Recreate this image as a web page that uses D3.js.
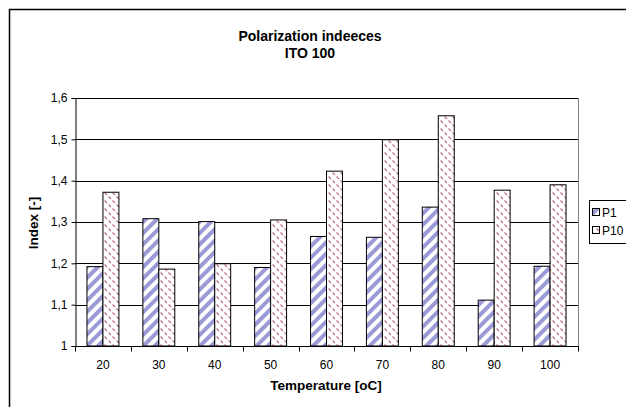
<!DOCTYPE html>
<head>
  <meta charset="utf-8">
  <script src="https://cdnjs.cloudflare.com/ajax/libs/d3/7.8.5/d3.min.js"></script>
  <style>
    body { margin:0; background:#fff; }
    svg { display:block; font-family: "Liberation Sans", Arial, sans-serif; }
  </style>
</head>
<body>
  <script>
    var temps = ["20", "30", "40", "50", "60", "70", "80", "90", "100"];
    var p1 = [1.192, 1.308, 1.301, 1.190, 1.265, 1.263, 1.336, 1.111, 1.193];
    var p10 = [1.372, 1.186, 1.199, 1.305, 1.423, 1.499, 1.557, 1.377, 1.390];
    var seriesNames = ["P1", "P10"];
    var yTicks = [1, 1.1, 1.2, 1.3, 1.4, 1.5, 1.6];

    var W = 626, H = 407;
    var plot = {left: 75, right: 578, top: 98, bottom: 346};

    var svg = d3.select("body").append("svg")
      .attr("width", W).attr("height", H);

    // patterns
    var defs = svg.append("defs");
    var pa = defs.append("pattern").attr("id", "pP1")
      .attr("patternUnits", "userSpaceOnUse")
      .attr("width", 8).attr("height", 8)
      .attr("patternTransform", "rotate(45)");
    pa.append("rect").attr("width", 8).attr("height", 8).attr("fill", "#fff");
    pa.append("rect").attr("x", 0).attr("width", 4).attr("height", 8).attr("fill", "#9a9ad6");

    // small pink dashes for P10
    var pb = defs.append("pattern").attr("id", "pP10")
      .attr("patternUnits", "userSpaceOnUse")
      .attr("width", 8).attr("height", 8);
    pb.append("rect").attr("width", 8).attr("height", 8).attr("fill", "#fff");
    pb.append("line").attr("x1", 0.5).attr("y1", 0.5).attr("x2", 3).attr("y2", 3)
      .attr("stroke", "#c0678f").attr("stroke-width", 1.1);
    pb.append("line").attr("x1", 4.5).attr("y1", 4.5).attr("x2", 7).attr("y2", 7)
      .attr("stroke", "#c0678f").attr("stroke-width", 1.1);

    // outer frame
    svg.append("rect")
      .attr("x", 9.5).attr("y", 9.5).attr("width", 640).attr("height", 420)
      .attr("fill", "none").attr("stroke", "#000").attr("stroke-width", 1.5);

    var x = d3.scaleBand().domain(temps).range([plot.left, plot.right]);
    var y = d3.scaleLinear().domain([1, 1.6]).range([plot.bottom, plot.top]);
    var barW = x.bandwidth() / 3.5;

    // gridlines
    svg.append("g").selectAll("line").data(yTicks.slice(1)).enter().append("line")
      .attr("x1", plot.left).attr("x2", plot.right)
      .attr("y1", function(d){ return Math.round(y(d)) + 0.5; })
      .attr("y2", function(d){ return Math.round(y(d)) + 0.5; })
      .attr("stroke", "#000").attr("stroke-width", 1);

    // plot right border (grey)
    svg.append("line")
      .attr("x1", plot.right + 0.5).attr("x2", plot.right + 0.5)
      .attr("y1", plot.top).attr("y2", plot.bottom)
      .attr("stroke", "#808080");

    // bars
    [p1, p10].forEach(function(vals, si){
      svg.append("g").selectAll("rect").data(vals).enter().append("rect")
        .attr("x", function(d, i){ return x(temps[i]) + barW * 0.75 + si * barW; })
        .attr("y", function(d){ return y(d); })
        .attr("width", barW)
        .attr("height", function(d){ return y(1) - y(d); })
        .attr("fill", "url(#pP" + (si == 0 ? "1" : "10") + ")")
        .attr("stroke", "#000").attr("stroke-width", 1);
    });

    // y axis
    var yAxis = svg.append("g")
      .attr("transform", "translate(" + (plot.left + 0.5) + ",0)")
      .call(d3.axisLeft(y).tickValues(yTicks).tickSize(4).tickPadding(4)
        .tickFormat(function(d){ return d == 1 ? "1" : d3.format(".1f")(d).replace(".", ","); }));
    yAxis.select(".domain").attr("stroke", "#000");
    yAxis.selectAll("text").attr("font-size", 12).attr("fill", "#000")
      .attr("font-family", "Liberation Sans, Arial, sans-serif");

    // x axis
    var xAxisG = svg.append("g")
      .attr("transform", "translate(0," + (plot.bottom + 0.5) + ")");
    xAxisG.append("line").attr("x1", plot.left).attr("x2", plot.right + 1)
      .attr("stroke", "#000");
    xAxisG.selectAll("line.tk").data(d3.range(temps.length + 1)).enter().append("line")
      .attr("class", "tk")
      .attr("x1", function(i){ return Math.round(plot.left + i * x.step()) + 0.5; })
      .attr("x2", function(i){ return Math.round(plot.left + i * x.step()) + 0.5; })
      .attr("y1", 0).attr("y2", 5).attr("stroke", "#000");
    xAxisG.selectAll("text").data(temps).enter().append("text")
      .attr("x", function(d){ return x(d) + x.bandwidth() / 2; })
      .attr("y", 22)
      .attr("text-anchor", "middle").attr("font-size", 12).text(function(d){ return d; });

    // titles
    svg.append("text").attr("x", 310).attr("y", 41).attr("text-anchor", "middle")
      .attr("font-size", 14).attr("font-weight", "bold").text("Polarization indeeces");
    svg.append("text").attr("x", 310).attr("y", 58).attr("text-anchor", "middle")
      .attr("font-size", 14).attr("font-weight", "bold").text("ITO 100");
    svg.append("text").attr("x", 326).attr("y", 390).attr("text-anchor", "middle")
      .attr("font-size", 13.5).attr("font-weight", "bold").text("Temperature [oC]");
    svg.append("text").attr("transform", "translate(38,223) rotate(-90)")
      .attr("text-anchor", "middle")
      .attr("font-size", 13.5).attr("font-weight", "bold").text("Index [-]");

    // legend
    var lg = svg.append("g");
    lg.append("rect").attr("x", 589.5).attr("y", 200.5).attr("width", 60).attr("height", 43)
      .attr("fill", "#fff").attr("stroke", "#000");
    seriesNames.forEach(function(n, i){
      lg.append("rect").attr("x", 592.5).attr("y", 208.5 + i * 18).attr("width", 7).attr("height", 7)
        .attr("fill", "url(#pP" + (i == 0 ? "1" : "10") + ")").attr("stroke", "#000");
      lg.append("text").attr("x", 602).attr("y", 216.5 + i * 18).attr("font-size", 12).text(n);
    });
  </script>
</body>
